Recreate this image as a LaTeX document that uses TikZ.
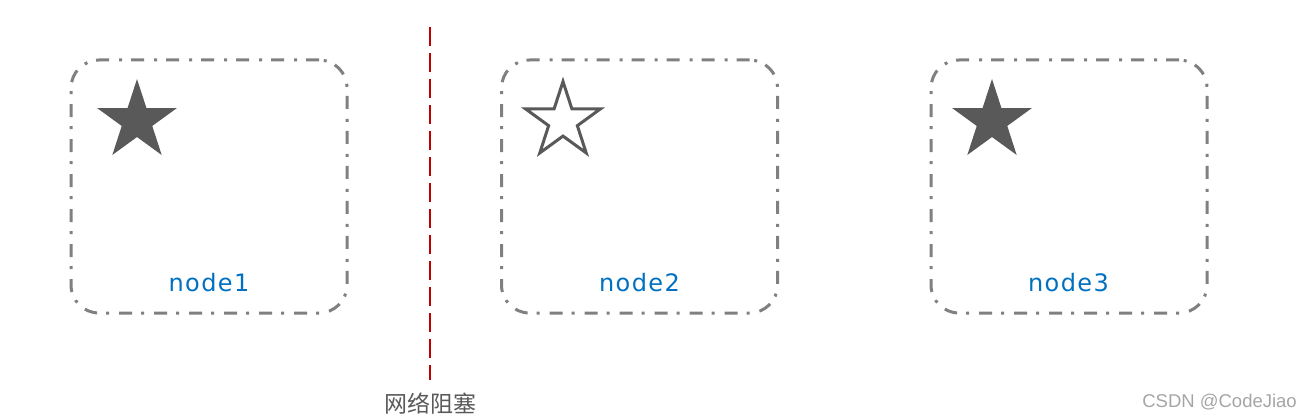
\documentclass[tikz,border=0pt]{standalone}
\usepackage{fontspec}
\setmainfont{DejaVu Sans}
\newfontfamily\labelfont[LetterSpace=6]{DejaVu Sans}
\newfontfamily\cjkfont{Noto Sans CJK SC}
\newfontfamily\wmfont{Liberation Sans}
\usetikzlibrary{shapes.geometric}
\definecolor{boxgray}{RGB}{128,128,128}
\definecolor{stargray}{RGB}{89,89,89}
\definecolor{labelblue}{RGB}{0,112,192}
\definecolor{blockred}{RGB}{192,0,0}
\definecolor{captiongray}{RGB}{90,90,90}
\definecolor{wmgray}{RGB}{165,165,165}
\tikzset{
  hostbox/.style={draw=boxgray, line width=3pt, rounded corners=28pt,
    dash pattern=on 13pt off 9pt on 3pt off 10pt,
    minimum width=276pt, minimum height=253pt, inner sep=0pt},
  fullstar/.style={star, star points=5, star point ratio=2.618,
    minimum size=84pt, inner sep=0pt, outer sep=0pt, fill=stargray},
  hollowstar/.style={star, star points=5, star point ratio=2.618,
    minimum size=79pt, inner sep=0pt, outer sep=0pt, draw=stargray,
    line width=3pt, fill=white},
  hostlabel/.style={text=labelblue, font=\labelfont\fontsize{24pt}{28pt}\selectfont,
    anchor=base, inner sep=0pt},
  blockline/.style={draw=blockred, line width=2.5pt, dash pattern=on 19pt off 7pt}
}
\begin{document}
\begin{tikzpicture}[x=1pt, y=-1pt]
\useasboundingbox (0,0) rectangle (1304,420);
% boxes
\node[hostbox] (box1) at (209,186.5) {};
\node[hostbox] (box2) at (639.5,186.5) {};
\node[hostbox] (box3) at (1069,186.5) {};
% stars
\node[fullstar] (star1) at (137,121) {};
\node[hollowstar] (star2) at (563,121) {};
\node[fullstar] (star3) at (992,121) {};
% labels
\node[hostlabel] (lab1) at (209,291) {node1};
\node[hostlabel] (lab2) at (639.5,291) {node2};
\node[hostlabel] (lab3) at (1068.5,291) {node3};
% network block line
\coordinate (lineTop) at (430,27);
\coordinate (lineBot) at (430,380);
\draw[blockline] (lineTop) -- (lineBot);
\node[text=captiongray, font=\cjkfont\fontsize{23pt}{26pt}\selectfont, inner sep=0pt] (caption) at (430,404) {网络阻塞};
\node[text=wmgray, font=\wmfont\fontsize{18.5pt}{22pt}\selectfont, anchor=east, inner sep=0pt] (wm) at (1297,402) {CSDN @CodeJiao};
\end{tikzpicture}
\end{document}
